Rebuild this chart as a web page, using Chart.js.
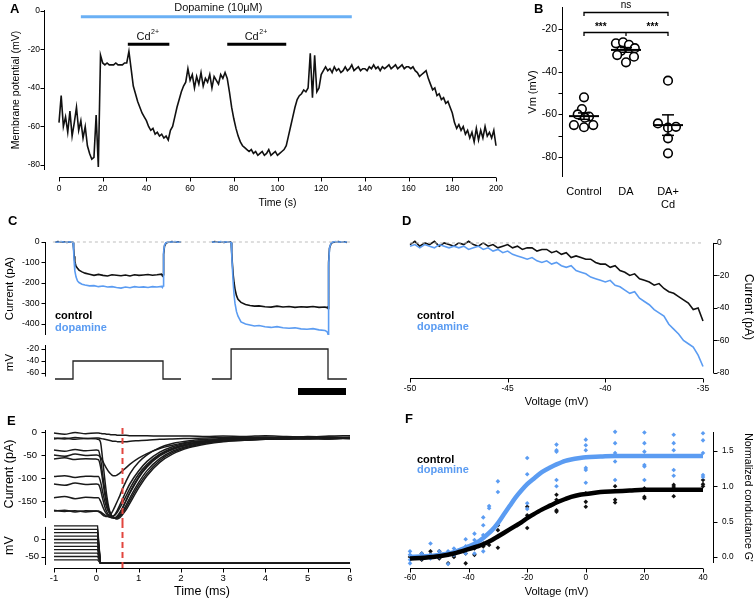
<!DOCTYPE html>
<html><head><meta charset="utf-8">
<script src="https://cdn.jsdelivr.net/npm/chart.js@4.4.1/dist/chart.umd.min.js"></script>
<style>
html,body{margin:0;padding:0;background:#fff;}
#wrap{position:relative;width:756px;height:599px;overflow:hidden;background:#fff;font-family:'Liberation Sans',Arial,Helvetica,sans-serif;}
canvas{position:absolute;}
.t{position:absolute;white-space:nowrap;font-weight:bold;}
.L{font-size:13px;line-height:13px;color:#000;}
.lg{font-size:11px;line-height:11px;}
.k{color:#000;}
.b{color:#5b9cf2;}
</style></head><body><div id="wrap">
<canvas id="cA" width="510" height="215" style="left:0;top:0"></canvas>
<canvas id="cB" width="246" height="215" style="left:510px;top:0"></canvas>
<canvas id="cC1" width="360" height="125" style="left:0;top:215px"></canvas>
<canvas id="cC2" width="360" height="59" style="left:0;top:340px"></canvas>
<canvas id="cD" width="396" height="200" style="left:360px;top:215px"></canvas>
<canvas id="cE1" width="360" height="107" style="left:0;top:415px"></canvas>
<canvas id="cE2" width="360" height="77" style="left:0;top:522px"></canvas>
<canvas id="cF" width="396" height="184" style="left:360px;top:415px"></canvas>
<div class="t L" style="left:10px;top:1.6px">A</div>
<div class="t L" style="left:534px;top:1.6px">B</div>
<div class="t L" style="left:8px;top:213.6px">C</div>
<div class="t L" style="left:402px;top:213.6px">D</div>
<div class="t L" style="left:7px;top:413.6px">E</div>
<div class="t L" style="left:405px;top:411.6px">F</div>
<div class="t lg k" style="left:55px;top:309.7px">control</div>
<div class="t lg b" style="left:55px;top:321.7px">dopamine</div>
<div class="t lg k" style="left:417px;top:309.7px">control</div>
<div class="t lg b" style="left:417px;top:320.7px">dopamine</div>
<div class="t lg k" style="left:417px;top:453.7px">control</div>
<div class="t lg b" style="left:417px;top:463.7px">dopamine</div>
</div>
<script>
// ---------------- DATA ----------------
// Panel A: membrane potential vs time
const aTime = [0,1,2,3,4,5,6,7,8,9,10,11,12,13,14,15,16,17,18,19,20,21,22,23,24,25,26,27,28,29,30,31,32,33,34,35,36,37,38,39,40,41,42,43,44,45,46,47,48,49,50,51,52,53,54,55,56,57,58,59,60,61,62,63,64,65,66,67,68,69,70,71,72,73,74,75,76,77,78,79,80,81,82,83,84,85,86,87,88,89,90,91,92,93,94,95,96,97,98,99,100,101,102,103,104,105,106,107,108,109,110,111,112,113,114,115,116,117,118,119,120,121,122,123,124,125,126,127,128,129,130,131,132,133,134,135,136,137,138,139,140,141,142,143,144,145,146,147,148,149,150,151,152,153,154,155,156,157,158,159,160,161,162,163,164,165,166,167,168,169,170,171,172,173,174,175,176,177,178,179,180,181,182,183,184,185,186,187,188,189,190,191,192,193,194,195,196,197,198,199,200];
const aVm = [-58,-44,-60,-55,-63,-52,-65,-58,-50,-62,
 -57,-66,-60,-70,-74,-77,-76,-54,-81,-23,
 -27,-28,-27,-28,-28,-28,-27,-28,-28,-28,
 -27,-27,-21,-30,-39,-43,-47,-50,-53,-55,
 -57,-60,-62,-61,-64,-63,-65,-64,-66,-65,
 -67,-62,-60,-55,-50,-46,-42,-39,-37,-30,
 -36,-33,-40,-34,-38,-32,-39,-35,-37,-33,
 -40,-34,-36,-38,-33,-35,-32,-35,-42,-50,
 -56,-61,-65,-68,-70,-71,-72,-73,-72,-74,
 -73,-75,-74,-73,-75,-74,-72,-75,-74,-73,
 -75,-74,-73,-72,-70,-65,-60,-55,-50,-46,
 -44,-43,-41,-42,-40,-22,-45,-23,-42,-40,
 -33,-31,-29,-31,-30,-32,-29,-31,-30,-32,
 -31,-29,-31,-30,-28,-31,-30,-29,-31,-30,
 -30,-31,-29,-30,-28,-30,-29,-31,-29,-30,
 -29,-28,-30,-29,-28,-30,-29,-28,-30,-29,
 -29,-30,-29,-31,-32,-34,-33,-32,-31,-35,
 -38,-41,-40,-44,-43,-46,-45,-48,-47,-50,
 -53,-58,-61,-59,-62,-60,-64,-62,-66,-63,
 -68,-61,-67,-62,-66,-60,-65,-63,-66,-62,
 -70];
const aXTicks = [0,20,40,60,80,100,120,140,160,180,200];
const aYTicks = [0,-20,-40,-60,-80];
const aDopaBar = [10,134];
const aDopaY = -3;
const aDopaLabel = 'Dopamine (10\u03bcM)';
const aCdBars = [[31.5,50.5],[77,104]];
const aCdY = -17.3;

// Panel B: Vm per group
const bCats = ['Control','DA',['DA+','Cd']];
const bCatX = [1,2,3];
const bCtrl = [-52,-57.5,-60,-61,-61.5,-65,-66,-65];
const bCtrlOff = [0,-0.05,-0.15,0.12,0.02,-0.24,0,0.22];
const bDa = [-26.7,-26.2,-27.4,-29,-30.2,-32.2,-35.6,-33];
const bDaOff = [-0.24,-0.07,0.07,0.21,-0.12,-0.21,0,0.19];
const bCd = [-44.2,-64.2,-66.2,-65.8,-71.2,-78.2];
const bCdOff = [0,-0.24,0,0.19,0,0];
const bMean = [-60.8,-29.8,-65];
const bSem = [1.5,1.1,4.8];
const bYTicks = [-80,-70,-60,-50,-40,-30,-20];
const bNsY = -12;
const bStarY = -21.5;

// Panel C: step currents (time in ms, two sweeps)
const cTL = [0,10,20,30,40,50,58,60,62,64,66,70,75,80,90,100,115,130,145,160,175,190,205,220,235,250,265,280,295,310,325,340,355,358,360,362,365,370,380,390,400,410,420];
const cCtrlL = [0,2,-1,1,-2,1,0,-2,-30,-70,-95,-118,-128,-137,-146,-152,-157,-163,-158,-163,-166,-160,-162,-165,-161,-166,-160,-163,-161,-159,-162,-160,-157,-165,-160,-60,-20,-5,0,2,-1,1,0];
const cDopaL = [1,-1,2,0,-1,1,0,-3,-40,-100,-140,-170,-190,-198,-206,-210,-214,-213,-218,-215,-220,-218,-222,-225,-220,-223,-218,-221,-219,-222,-218,-220,-217,-222,-215,-50,-15,-3,1,0,2,-1,1];
const cTR = [523,533,543,553,563,573,583,587,589,591,594,597,600,605,610,620,635,650,665,680,700,720,740,760,780,800,820,840,860,880,900,905,908,910,912,915,920,925,935,945,955,965,973];
const cCtrlR = [0,2,-1,1,-2,0,1,-2,-50,-100,-160,-200,-230,-262,-280,-295,-305,-310,-313,-312,-316,-318,-313,-317,-315,-319,-316,-318,-315,-319,-317,-320,-318,-325,-100,-30,-8,-2,0,2,-1,1,-2];
const cDopaR = [1,-1,0,2,-1,1,-1,-3,-60,-120,-200,-260,-300,-340,-362,-390,-400,-405,-410,-408,-414,-417,-413,-419,-421,-419,-424,-426,-423,-429,-432,-436,-440,-450,-120,-30,-5,-1,2,0,1,-1,1];
const cZeroT = [-7,983];
const cCmdTL = [0,60,60,360,360,420];
const cCmdL = [-70,-70,-40,-40,-70,-70];
const cCmdTR = [523,587,587,910,910,973];
const cCmdR = [-70,-70,-20,-20,-70,-70];
const cScaleBar = [810,970];
const cYTicks = [0,-100,-200,-300,-400];
const cVTicks = [-20,-40,-60];

// Panel D: ramp I-V
const dV = [-50,-49.75,-49.5,-49.25,-49,-48.75,-48.5,-48.25,-48,-47.75,-47.5,-47.25,-47,-46.75,-46.5,-46.25,-46,-45.75,-45.5,-45.25,-45,-44.75,-44.5,-44.25,-44,-43.75,-43.5,-43.25,-43,-42.75,-42.5,-42.25,-42,-41.75,-41.5,-41.25,-41,-40.75,-40.5,-40.25,-40,-39.75,-39.5,-39.25,-39,-38.75,-38.5,-38.25,-38,-37.75,-37.5,-37.25,-37,-36.75,-36.5,-36.25,-36,-35.75,-35.5,-35.25,-35];
const dCtrl = [-1,1,-2,0,-1,1,-2,0,-1,-2,0,-1,1,-1,-2,0,-2,-1,-3,-2,-1,-3,-2,-4,-3,-3,-5,-4,-4,-6,-5,-7,-6,-9,-8,-9,-10,-10,-12,-13,-13,-15,-14,-17,-18,-20,-19,-22,-23,-24,-26,-25,-28,-30,-31,-33,-35,-37,-41,-40,-48];
const dDopa = [-2,-1,-3,-1,-2,-3,-1,-2,-3,-2,-3,-2,-4,-3,-2,-4,-3,-5,-4,-6,-5,-7,-8,-9,-10,-9,-11,-12,-11,-13,-12,-14,-15,-14,-17,-18,-19,-21,-22,-23,-24,-23,-26,-27,-29,-31,-30,-34,-36,-38,-41,-43,-45,-50,-53,-56,-60,-62,-64,-69,-76];
const dZeroV = [-50,-35];
const dXTicks = [-50,-45,-40,-35];
const dYTicks = [0,-20,-40,-60,-80];

// Panel E: tail currents
const tE = [-1,-0.75,-0.5,-0.25,0,0.05,0.1,0.15,0.2,0.25,0.3,0.35,0.4,0.45,0.5,0.55,0.6,0.7,0.8,1.0,1.2,1.5,1.8,2.2,2.6,3.0,3.5,4.0,4.5,5.0,5.5,6.0];
const eM60 = [-2,-5,-1,-4,-2,-2,-3,-4,-4,-5,-5,-6,-6,-6,-7,-7,-7,-7,-8,-8,-8,-9,-9,-9,-10,-9,-10,-8,-10,-11,-9,-8];
const eM50 = [-13,-15,-12,-14,-13,-13,-14,-15,-16,-17,-18,-19,-20,-20,-21,-21,-21,-21,-20,-19,-18,-16,-15,-14,-13,-12,-12,-11,-13,-10,-11,-12];
const eM40 = [-50,-53,-48,-51,-50,-51,-55,-63,-72,-80,-87,-92,-95,-95,-93,-90,-86,-78,-70,-57,-47,-36,-29,-22,-19,-16,-15,-13,-14,-12,-13,-14];
const eM30 = [-113,-116,-111,-114,-113,-114,-125,-145,-162,-174,-181,-184,-183,-178,-170,-160,-150,-130,-112,-85,-64,-44,-32,-23,-19,-16,-15,-14,-13,-14,-12,-13];
const eM20 = [-172,-170,-174,-171,-172,-173,-176,-180,-183,-184,-182,-178,-170,-160,-150,-140,-128,-108,-90,-66,-50,-34,-25,-19,-16,-14,-13,-13,-12,-11,-12,-13];
const eM10 = [-170,-173,-171,-174,-172,-172,-174,-177,-180,-183,-185,-186,-184,-180,-174,-166,-158,-140,-122,-92,-70,-48,-35,-25,-20,-17,-15,-14,-13,-12,-13,-12];
const eP0 = [-143,-140,-145,-142,-143,-143,-150,-162,-172,-179,-183,-186,-187,-186,-182,-176,-168,-150,-132,-100,-76,-52,-38,-27,-21,-18,-16,-15,-14,-13,-14,-12];
const eP10 = [-97,-95,-99,-96,-97,-97,-108,-130,-150,-165,-175,-182,-186,-187,-186,-182,-176,-160,-142,-110,-84,-58,-42,-30,-23,-19,-17,-15,-15,-13,-14,-13];
const eP20 = [-59,-56,-60,-58,-59,-60,-75,-105,-135,-158,-172,-181,-186,-188,-187,-184,-178,-165,-148,-116,-90,-62,-45,-32,-24,-20,-18,-16,-15,-14,-15,-13];
const eP30 = [-39,-42,-38,-41,-39,-40,-58,-92,-125,-152,-170,-180,-185,-188,-189,-187,-182,-170,-154,-122,-95,-66,-48,-34,-26,-21,-18,-16,-15,-14,-15,-14];
const eP40 = [-15,-13,-16,-14,-15,-16,-22,-60,-102,-140,-166,-180,-186,-187,-184,-178,-170,-150,-130,-98,-74,-50,-37,-27,-21,-18,-16,-15,-14,-15,-13,-14];
const eTraces = [eM60,eM50,eM40,eM30,eM20,eM10,eP0,eP10,eP20,eP30,eP40];
const eSteps = [-60,-50,-40,-30,-20,-10,0,10,20,30,40];
const eStepT = [-1,0.03,0.1,6];
const eHold = -70;
const eRedT = 0.62;
const eXTicks = [-1,0,1,2,3,4,5,6];
const eYTicks = [0,-50,-100,-150];
const eVTicks = [0,-50];

// Panel F: normalized conductance
const fV = [-60,-56,-53,-50,-47,-45,-41,-38,-35,-33,-30,-20,-10,0,10,20,30,40];
const fDopa = [[0.08,0.03,-0.04,-0.09],[0.05,0.0,-0.02],[0.19,0.03,-0.02],[0.08,0.03,0.0],[0.08,0.03,-0.10],[0.12,0.05,0.03],[0.25,0.15,0.10,0.05],[0.33,0.24,0.05],[0.56,0.45,0.31,0.19,0.08],[0.72,0.69],[1.07,0.92],[1.40,1.17,0.76,0.68],[1.59,1.51,1.49,1.09,1.00],[1.66,1.58,1.51,1.26,1.23,1.05],[1.77,1.61,1.47,1.35,1.09],[1.76,1.61,1.49,1.30,1.28,1.09],[1.73,1.61,1.51,1.23,1.15],[1.75,1.65,1.47,1.16,1.13]];
const fCtrl = [[0.0],[0.05,0.0,-0.04],[0.08,0.03],[0.08,0.03,-0.02],[-0.09,0.03],[0.03,0.0],[0.05,-0.09],[0.12,0.03],[0.19,0.15],[0.22,0.17],[0.45,0.38,0.13],[0.71,0.59,0.41],[0.88,0.81,0.66,0.64],[0.90,0.78,0.71],[1.00,0.81,0.77],[0.97,0.95,0.85,0.83],[1.02,0.99,0.95,0.86],[1.09,1.03,1.00]];
const fFitV = [-60,-55,-50,-45,-40,-37,-35,-32,-30,-28,-26,-24,-22,-20,-18,-15,-12,-10,-7,-5,-2,0,5,10,15,20,30,40];
const fFitCtrl = [-0.02,-0.01,0.01,0.05,0.11,0.15,0.18,0.24,0.29,0.34,0.39,0.44,0.49,0.55,0.60,0.67,0.73,0.77,0.82,0.85,0.88,0.89,0.92,0.93,0.94,0.95,0.95,0.95];
const fFitDopa = [0.0,0.01,0.03,0.07,0.15,0.21,0.27,0.38,0.48,0.60,0.72,0.84,0.94,1.03,1.10,1.20,1.27,1.31,1.36,1.38,1.40,1.41,1.42,1.43,1.43,1.43,1.43,1.43];
const fXTicks = [-60,-40,-20,0,20,40];
const fYTicks = [0,0.5,1,1.5];

// ---------------- STYLE / HELPERS ----------------
const FONT = "'Liberation Sans', Arial, Helvetica, sans-serif";
const BLUE = '#5b9cf2';
Chart.defaults.font.family = FONT;
Chart.defaults.color = '#000';
Chart.defaults.animation = false;
Chart.defaults.responsive = false;
Chart.defaults.plugins.legend.display = false;
Chart.defaults.plugins.tooltip.enabled = false;
Chart.defaults.elements.point.radius = 0;

const axesLines = {
  id: 'axesLines',
  afterDraw(chart, args, opts) {
    const list = opts && opts.list; if (!list) return;
    const ctx = chart.ctx, ca = chart.chartArea;
    for (let i = 0; i < list.length; i++) {
      const a = list[i]; const s = chart.scales[a.id];
      const from = a.from !== undefined ? a.from : s.min;
      const to = a.to !== undefined ? a.to : s.max;
      ctx.save(); ctx.strokeStyle = '#000'; ctx.lineWidth = 1; ctx.beginPath();
      if (s.isHorizontal()) {
        const y = Math.round(ca.bottom + a.gap) + 0.5;
        ctx.moveTo(s.getPixelForValue(from), y); ctx.lineTo(s.getPixelForValue(to), y);
        s.ticks.forEach(t => { const x = Math.round(s.getPixelForValue(t.value)) + 0.5; ctx.moveTo(x, y); ctx.lineTo(x, y + a.tick); });
      } else {
        const right = a.side === 'right';
        const x = right ? Math.round(ca.right + a.gap) + 0.5 : Math.round(ca.left - a.gap) - 0.5;
        const d = right ? 1 : -1;
        ctx.moveTo(x, s.getPixelForValue(from)); ctx.lineTo(x, s.getPixelForValue(to));
        s.ticks.forEach(t => { const y = Math.round(s.getPixelForValue(t.value)) + 0.5; ctx.moveTo(x, y); ctx.lineTo(x + d * a.tick, y); });
      }
      ctx.stroke(); ctx.restore();
    }
  }
};
Chart.register(axesLines);

function axis(o) {
  return {
    type: 'linear', position: o.pos, min: o.min, max: o.max,
    grid: {display: false, drawTicks: false},
    border: {display: false},
    afterBuildTicks: s => { s.ticks = o.ticks.map(v => ({value: v})); },
    afterFit: s => {
      if (o.w !== undefined) s.width = o.w;
      if (o.h !== undefined) s.height = o.h;
      s.paddingLeft = 0; s.paddingRight = 0; s.paddingTop = 0; s.paddingBottom = 0;
    },
    ticks: {padding: o.pad, font: {size: o.fs}, color: '#000', autoSkip: false, maxRotation: 0, minRotation: 0,
      callback: o.fmt || (v => String(v))},
    title: o.title ? {display: true, text: o.title, color: '#000', font: {size: o.tfs},
      padding: {top: o.tpad, bottom: o.tpad}} : {display: false}
  };
}
function hidden(min, max) { return {type: 'linear', display: false, min: min, max: max}; }
function xy(xs, ys) { return xs.map((v, i) => ({x: v, y: ys[i]})); }
function ln(data, color, w, extra) {
  return Object.assign({data: data, borderColor: color, backgroundColor: color, borderWidth: w,
    pointRadius: 0, fill: false, clip: false, tension: 0}, extra || {});
}
function make(id, datasets, scales, padding, list, plugins, popts) {
  return new Chart(document.getElementById(id), {
    type: 'line', data: {datasets: datasets}, plugins: plugins || [],
    options: {responsive: false, animation: false, layout: {padding: padding}, scales: scales,
      plugins: Object.assign({legend: {display: false}, tooltip: {enabled: false}, axesLines: {list: list}}, popts || {})}
  });
}

// ---------------- PANEL A ----------------
const aAnn = {id: 'aAnn', afterDatasetsDraw(c) {
  const ctx = c.ctx, x = c.scales.x, y = c.scales.y;
  ctx.save(); ctx.fillStyle = '#111'; ctx.textBaseline = 'middle';
  ctx.font = '11px ' + FONT; ctx.textAlign = 'center';
  ctx.fillText(aDopaLabel, x.getPixelForValue((aDopaBar[0] + aDopaBar[1]) / 2) + 2, y.getPixelForValue(aDopaY) - 9);
  aCdBars.forEach(b => {
    const cx = x.getPixelForValue((b[0] + b[1]) / 2) + 2, cy = y.getPixelForValue(aCdY) - 7;
    ctx.font = '11px ' + FONT; ctx.textAlign = 'right'; ctx.fillText('Cd', cx, cy);
    ctx.font = '7px ' + FONT; ctx.textAlign = 'left'; ctx.fillText('2+', cx + 0.5, cy - 5);
  });
  ctx.restore();
}};
make('cA', [
  ln(xy(aTime, aVm), '#111', 1.6),
  ln(xy(aDopaBar, [aDopaY, aDopaY]), '#6ab0f5', 3),
  ln(xy(aCdBars[0], [aCdY, aCdY]), '#000', 3),
  ln(xy(aCdBars[1], [aCdY, aCdY]), '#000', 3)
], {
  x: axis({pos: 'bottom', min: 0, max: 200, ticks: aXTicks, pad: 14, fs: 8.5, h: 45, title: 'Time (s)', tfs: 10.5, tpad: 5.7}),
  y: axis({pos: 'left', min: -82.6, max: 0.5, ticks: aYTicks, pad: 19, fs: 8.5, w: 59, title: 'Membrane potential (mV)', tfs: 10.5, tpad: 9.7})
}, {left: 0, top: 10, right: 14, bottom: 0},
[{id: 'y', gap: 14, tick: 4}, {id: 'x', gap: 7, tick: 4}], [aAnn]);

// ---------------- PANEL B ----------------
function bPts(vals, offs, cat) { return vals.map((v, i) => ({x: cat + offs[i], y: v})); }
const bAnn = {id: 'bAnn', afterDatasetsDraw(c) {
  const ctx = c.ctx, x = c.scales.x, y = c.scales.y;
  ctx.save(); ctx.strokeStyle = '#000'; ctx.fillStyle = '#000';
  const seg = (a, b, d, e) => { ctx.beginPath(); ctx.moveTo(a, b); ctx.lineTo(d, e); ctx.stroke(); };
  bMean.forEach((m, i) => {
    const cx = x.getPixelForValue(bCatX[i]), my = y.getPixelForValue(m);
    ctx.lineWidth = 2; seg(cx - 15, my, cx + 15, my);
    const t = y.getPixelForValue(m + bSem[i]), b = y.getPixelForValue(m - bSem[i]);
    ctx.lineWidth = 1.5; seg(cx, t, cx, b); seg(cx - 6, t, cx + 6, t); seg(cx - 6, b, cx + 6, b);
  });
  const x1 = x.getPixelForValue(bCatX[0]), x2 = x.getPixelForValue(bCatX[1]), x3 = x.getPixelForValue(bCatX[2]);
  ctx.lineWidth = 1.3;
  [bNsY, bStarY].forEach(v => {
    const py = Math.round(y.getPixelForValue(v)) + 0.5;
    ctx.beginPath(); ctx.moveTo(x1, py + 3.5); ctx.lineTo(x1, py); ctx.lineTo(x3, py); ctx.lineTo(x3, py + 3.5); ctx.stroke();
  });
  const ps = Math.round(y.getPixelForValue(bStarY)) + 0.5;
  seg(x2, ps, x2, ps + 3.5);
  ctx.textAlign = 'center'; ctx.textBaseline = 'middle';
  ctx.font = '10px ' + FONT; ctx.fillText('ns', x2, y.getPixelForValue(bNsY) - 7);
  ctx.font = 'bold 10px ' + FONT;
  ctx.fillText('***', x.getPixelForValue(1.4), ps - 5.5);
  ctx.fillText('***', x.getPixelForValue(2.63), ps - 5.5);
  ctx.restore();
}};
const bStyle = {showLine: false, pointRadius: 4.3, pointBorderWidth: 1.6, pointBorderColor: '#000', pointBackgroundColor: '#fff', clip: false};
make('cB', [
  Object.assign({data: bPts(bCtrl, bCtrlOff, bCatX[0])}, bStyle),
  Object.assign({data: bPts(bDa, bDaOff, bCatX[1])}, bStyle),
  Object.assign({data: bPts(bCd, bCdOff, bCatX[2])}, bStyle)
], {
  x: axis({pos: 'bottom', min: 0.5, max: 3.5, ticks: bCatX, pad: 8.4, fs: 11, h: 38, fmt: v => bCats[bCatX.indexOf(v)]}),
  y: axis({pos: 'left', min: -89.3, max: -9.7, ticks: bYTicks, pad: 6, fs: 10.5, w: 53, title: 'Vm (mV)', tfs: 11, tpad: 16.4,
    fmt: v => (v % 20 === 0 ? String(v) : '')})
}, {left: 0, top: 7, right: 67, bottom: 0},
[{id: 'y', gap: 0, tick: 4}], [bAnn]);

// ---------------- PANEL C ----------------
make('cC1', [
  ln(xy(cZeroT, [0, 0]), '#bdbdbd', 1, {borderDash: [3, 3]}),
  ln(xy(cTL, cDopaL), BLUE, 1.6),
  ln(xy(cTR, cDopaR), BLUE, 1.6),
  ln(xy(cTL, cCtrlL), '#111', 1.6),
  ln(xy(cTR, cCtrlR), '#111', 1.6)
], {
  x: hidden(-30, 990),
  y: axis({pos: 'left', min: -454, max: 0, ticks: cYTicks, pad: 6.5, fs: 8.7, w: 46, title: 'Current (pA)', tfs: 11.5, tpad: 3.1})
}, {left: 0, top: 27, right: 8, bottom: 5},
[{id: 'y', gap: 0, tick: 4}]);

const cBarPlug = {id: 'cBar', afterDatasetsDraw(c) {
  const ctx = c.ctx, x = c.scales.x;
  const x0 = x.getPixelForValue(cScaleBar[0]), x1 = x.getPixelForValue(cScaleBar[1]);
  ctx.save(); ctx.fillStyle = '#000'; ctx.fillRect(x0, c.chartArea.bottom + 8, x1 - x0, 7); ctx.restore();
}};
make('cC2', [
  ln(xy(cCmdTL, cCmdL), '#222', 1.3),
  ln(xy(cCmdTR, cCmdR), '#222', 1.3)
], {
  x: hidden(-30, 990),
  y: axis({pos: 'left', min: -71.7, max: -13.3, ticks: cVTicks, pad: 7, fs: 8.7, w: 46, title: 'mV', tfs: 11.5, tpad: 3.1})
}, {left: 0, top: 5, right: 8, bottom: 19},
[{id: 'y', gap: 0, tick: 4, from: -66}], [cBarPlug]);

// ---------------- PANEL D ----------------
make('cD', [
  ln(xy(dZeroV, [0, 0]), '#bdbdbd', 1, {borderDash: [3, 3]}),
  ln(xy(dV, dDopa), BLUE, 1.6),
  ln(xy(dV, dCtrl), '#111', 1.6)
], {
  x: axis({pos: 'bottom', min: -50, max: -35, ticks: dXTicks, pad: 11, fs: 8.5, h: 42, title: 'Voltage (mV)', tfs: 11, tpad: 6.4}),
  y: axis({pos: 'right', min: -80, max: 1.2, ticks: dYTicks, pad: 14, fs: 8.5, w: 53, title: 'Current (pA)', tfs: 12, tpad: 0.8})
}, {left: 50, top: 26, right: 0, bottom: 0},
[{id: 'x', gap: 5, tick: 4}, {id: 'y', side: 'right', gap: 10, tick: 4, from: -80, to: 0}]);

// ---------------- PANEL E ----------------
const redLine = {id: 'redLine', afterDatasetsDraw(c, a, o) {
  const ctx = c.ctx, x = c.scales.x.getPixelForValue(eRedT);
  ctx.save(); ctx.strokeStyle = '#e2463f'; ctx.lineWidth = 2; ctx.setLineDash([6, 4]);
  ctx.beginPath(); ctx.moveTo(x, o.y0); ctx.lineTo(x, o.y1); ctx.stroke(); ctx.restore();
}};
make('cE1', eTraces.map(tr => ln(xy(tE, tr), '#1a1a1a', 1.5, {cubicInterpolationMode: 'monotone'})), {
  x: hidden(-1, 6),
  y: axis({pos: 'left', min: -187, max: 4.3, ticks: eYTicks, pad: 17, fs: 9.5, w: 54, title: 'Current (pA)', tfs: 12.5, tpad: 2.5})
}, {left: 0, top: 15, right: 10, bottom: 4},
[{id: 'y', gap: 8, tick: 4}], [redLine], {redLine: {y0: 13, y1: 107}});

make('cE2', eSteps.map(v => ln(xy(eStepT, [v, v, eHold, eHold]), '#1a1a1a', 1.3)), {
  x: axis({pos: 'bottom', min: -1, max: 6, ticks: eXTicks, pad: 6.3, fs: 9.5, h: 33, title: 'Time (ms)', tfs: 12.5, tpad: 0}),
  y: axis({pos: 'left', min: -77.9, max: 42.6, ticks: eVTicks, pad: 15, fs: 9.5, w: 54, title: 'mV', tfs: 12.5, tpad: 2.5})
}, {left: 0, top: 3, right: 10, bottom: 0},
[{id: 'y', gap: 8, tick: 4, from: -75, to: 37}, {id: 'x', gap: 2, tick: 4}], [redLine], {redLine: {y0: 0, y1: 46}});

// ---------------- PANEL F ----------------
function fPts(groups) {
  const out = [];
  groups.forEach((g, i) => g.forEach(v => out.push({x: fV[i], y: v})));
  return out;
}
const fPtStyle = {showLine: false, pointStyle: 'rectRot', pointRadius: 2.3, pointBorderWidth: 0, clip: false, order: 2};
make('cF', [
  Object.assign({data: fPts(fDopa), pointBackgroundColor: BLUE, pointBorderColor: BLUE}, fPtStyle),
  Object.assign({data: fPts(fCtrl), pointBackgroundColor: '#111', pointBorderColor: '#111'}, fPtStyle),
  ln(xy(fFitV, fFitDopa), BLUE, 4.5, {cubicInterpolationMode: 'monotone', order: 1}),
  ln(xy(fFitV, fFitCtrl), '#000', 4.5, {cubicInterpolationMode: 'monotone', order: 0})
], {
  x: axis({pos: 'bottom', min: -60, max: 40, ticks: fXTicks, pad: 10, fs: 8.3, h: 36, title: 'Voltage (mV)', tfs: 11, tpad: 0.4}),
  y: axis({pos: 'right', min: -0.085, max: 1.768, ticks: fYTicks, pad: 19, fs: 8.3, w: 53, title: "Normalized conductance G'", tfs: 10.5, tpad: 1.7,
    fmt: v => v.toFixed(1)})
}, {left: 50, top: 17, right: 0, bottom: 0},
[{id: 'x', gap: 5, tick: 4}, {id: 'y', side: 'right', gap: 10, tick: 4}]);
</script>
</body></html>
